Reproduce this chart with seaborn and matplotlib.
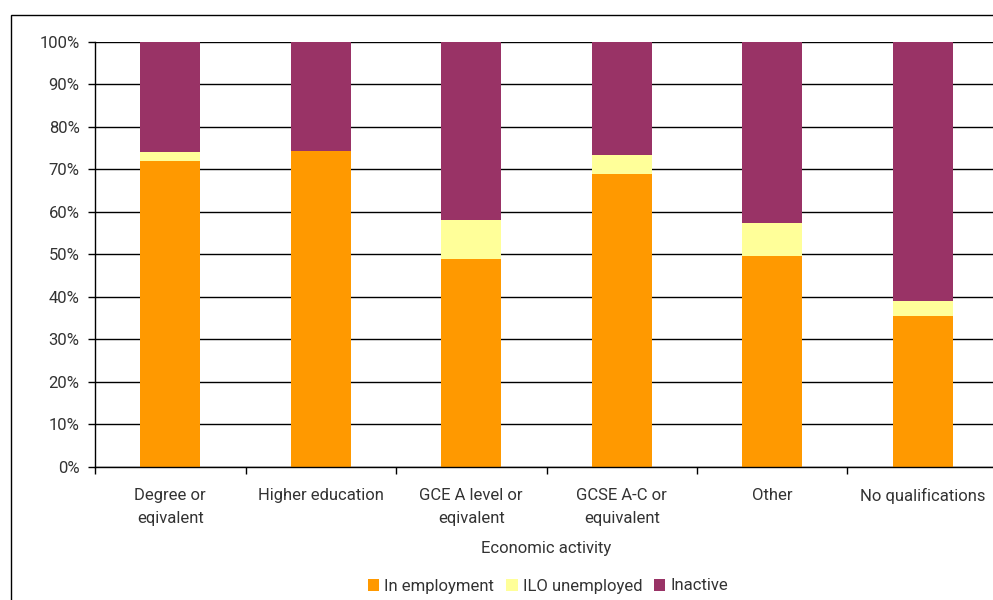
import matplotlib
matplotlib.use("Agg")
import matplotlib.pyplot as plt
import matplotlib.patches as mpatches
from matplotlib.ticker import FixedLocator, PercentFormatter
import pandas as pd
import seaborn as sns

categories = [
    "Degree or\neqivalent",
    "Higher education",
    "GCE A level or\neqivalent",
    "GCSE A-C or\nequivalent",
    "Other",
    "No qualifications",
]
in_employment = [71.9, 74.3, 48.9, 68.9, 49.6, 35.5]
ilo_unemployed = [2.1, 0.0, 9.1, 4.4, 7.7, 3.5]
inactive = [100 - e - u for e, u in zip(in_employment, ilo_unemployed)]

series_names = ["In employment", "ILO unemployed", "Inactive"]
colors = {"In employment": "#FF9900", "ILO unemployed": "#FFFF99", "Inactive": "#993366"}

df = pd.DataFrame({
    "category": categories,
    "In employment": in_employment,
    "ILO unemployed": ilo_unemployed,
    "Inactive": inactive,
})
# cumulative tops for stacking: draw the tallest layer first
df["top_emp"] = df["In employment"]
df["top_unemp"] = df["In employment"] + df["ILO unemployed"]
df["top_inact"] = df["top_unemp"] + df["Inactive"]

sns.set_theme(style="white")
plt.rcParams["font.family"] = ["Roboto", "DejaVu Sans"]
text_color = "#333333"
fs = 12

fig = plt.figure(figsize=(9.93, 6.0), dpi=100)
ax = fig.add_axes([95 / 993, 1 - 467 / 600, 903 / 993, 425.5 / 600])

for col, name in [("top_inact", "Inactive"), ("top_unemp", "ILO unemployed"), ("top_emp", "In employment")]:
    sns.barplot(data=df, x="category", y=col, color=colors[name], width=0.40,
                saturation=1, ax=ax, linewidth=0, zorder=3)

ax.set_xlim(-0.5, len(categories) - 0.5)
ax.set_ylim(0, 100)
ax.set_yticks(range(0, 101, 10))
ax.yaxis.set_major_formatter(PercentFormatter(decimals=0))
ax.grid(axis="y", color="black", linewidth=1.0, zorder=0)
ax.set_axisbelow(True)

for s in ["top", "right"]:
    ax.spines[s].set_visible(False)
for s in ["left", "bottom"]:
    ax.spines[s].set_color("black")
    ax.spines[s].set_linewidth(1.0)
    ax.spines[s].set_zorder(4)

ax.tick_params(axis="y", which="major", left=True, length=5, width=1, color="black",
               pad=6, labelsize=fs, labelcolor=text_color)
ax.tick_params(axis="x", which="major", bottom=False, length=0, pad=15,
               labelsize=fs, labelcolor=text_color)
ax.xaxis.set_minor_locator(FixedLocator([i - 0.5 for i in range(len(categories) + 1)]))
ax.tick_params(axis="x", which="minor", bottom=True, length=5, width=1, color="black")
for lbl in ax.get_xticklabels():
    lbl.set_linespacing(1.67)
    lbl.set_verticalalignment("top")

ax.set_ylabel("")
ax.set_xlabel("Economic activity", fontsize=fs, color=text_color)
ax.xaxis.set_label_coords(0.5, -(549 - 467) / 425.5)
ax.xaxis.label.set_verticalalignment("center")

handles = [mpatches.Patch(facecolor=colors[n], edgecolor="none", label=n) for n in series_names]
leg = fig.legend(handles=handles, loc="center", bbox_to_anchor=(548 / 993, 1 - 586 / 600),
                 ncol=3, frameon=False, fontsize=fs, handlelength=0.7, handleheight=0.7,
                 handletextpad=0.3, columnspacing=0.7, borderaxespad=0)
for t in leg.get_texts():
    t.set_color(text_color)

# outer chart frame
frame = mpatches.Rectangle((11 / 993, -0.2), 1.5, 1.2 - 15 / 600, transform=fig.transFigure,
                           fill=False, edgecolor="black", linewidth=1.0, clip_on=False)
fig.patches.append(frame)

fig.savefig("out.png", dpi=100)
